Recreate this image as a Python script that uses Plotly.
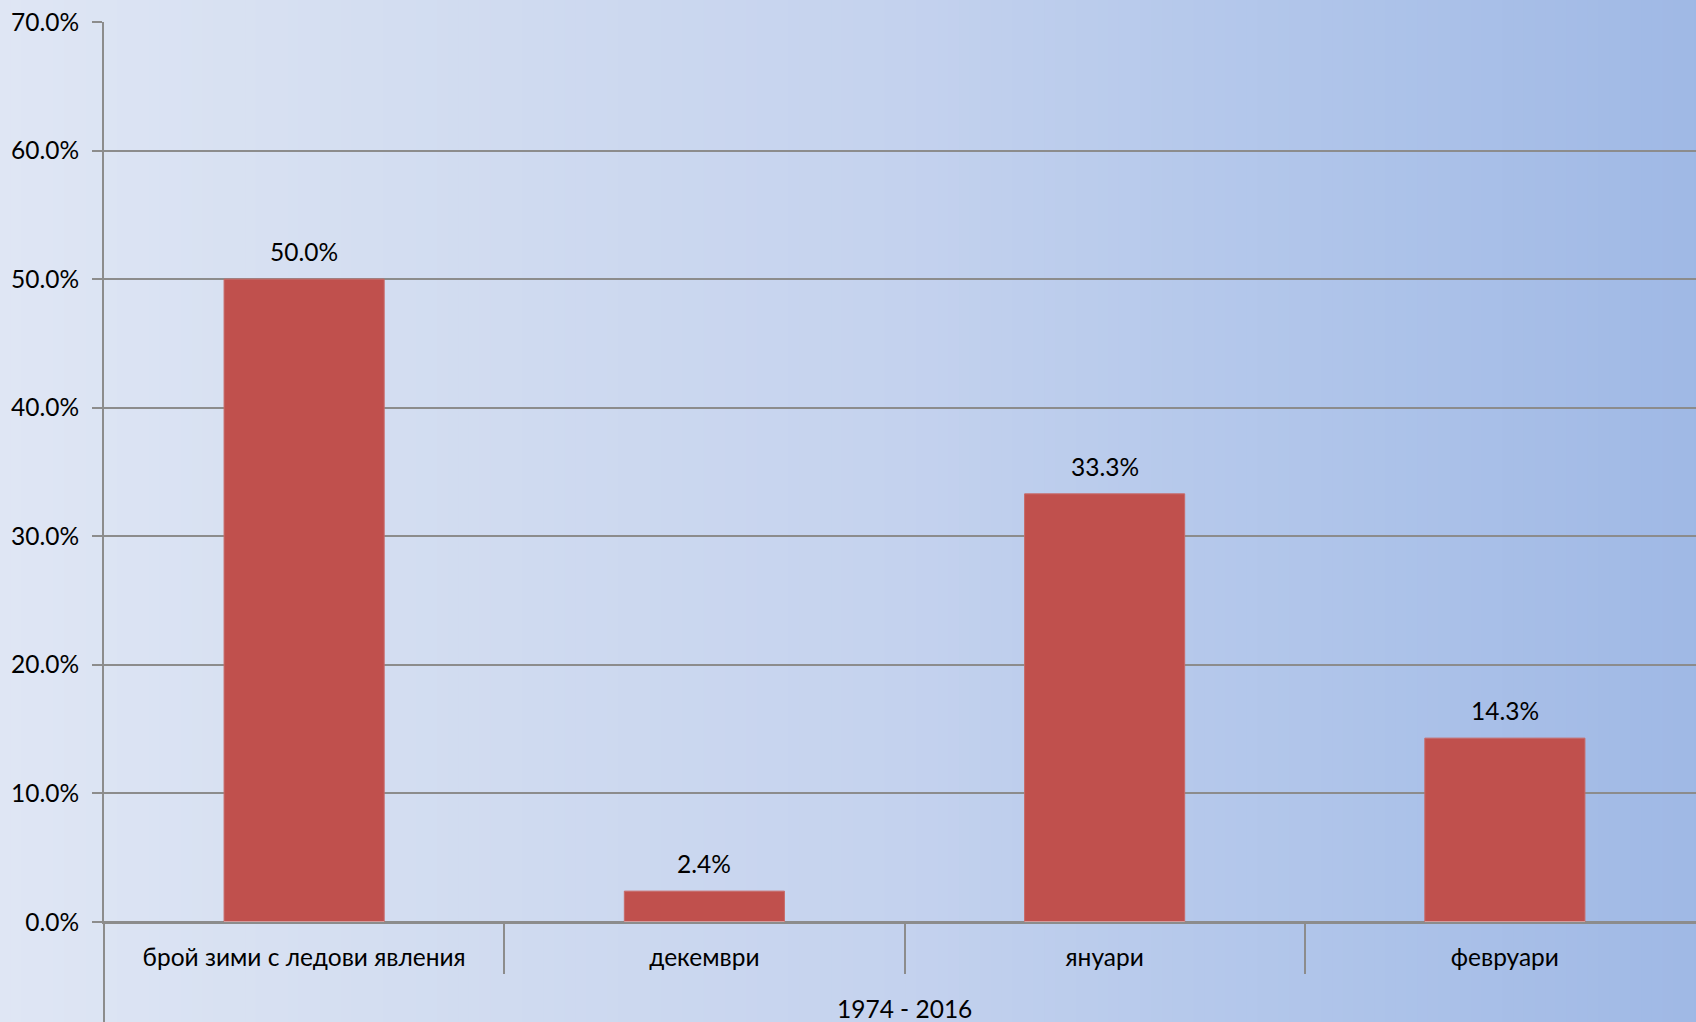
import plotly.graph_objects as go

categories = ["брой зими с ледови явления", "декември", "януари", "февруари"]
values = [0.500, 0.024, 0.333, 0.143]
x_title = "1974 - 2016"
y_ticks = [0, 0.1, 0.2, 0.3, 0.4, 0.5, 0.6, 0.7]

W, H = 1705, 1022
L, R, T, B = 104, 0, 22, 100
FONT = "Lato, 'Noto Sans', sans-serif"
FS = 24.5
GRID = "#8c8c8c"

# background gradient stops (paper fraction, rgb)
stops = [(0.0, (0xdf, 0xe6, 0xf4)), (0.295, (0xd0, 0xdb, 0xf0)), (0.53, (0xc4, 0xd2, 0xee)),
         (0.766, (0xb0, 0xc5, 0xea)), (1.0, (0x9f, 0xb8, 0xe5))]

def col_at(f):
    for (a, ca), (b, cb) in zip(stops[:-1], stops[1:]):
        if a <= f <= b:
            t = (f - a) / (b - a)
            return "rgb(%d,%d,%d)" % tuple(round(ca[i] + (cb[i] - ca[i]) * t) for i in range(3))
    return "rgb(%d,%d,%d)" % stops[-1][1]

shapes = []
N = 160
x_left = -L / (W - L - R)
span = 1 - x_left
for i in range(N):
    f0 = i / N
    f1 = (i + 1) / N
    shapes.append(dict(type="rect", xref="paper", yref="paper",
                       x0=x_left + f0 * span, x1=x_left + f1 * span + 0.002,
                       y0=-B / (H - T - B) - 0.01, y1=1 + T / (H - T - B) + 0.01,
                       fillcolor=col_at((f0 + f1) / 2), line=dict(width=0), layer="below"))
# y-axis line extension to bottom of page
shapes.append(dict(type="line", xref="paper", yref="paper", x0=0, x1=0,
                   y0=-B / (H - T - B) - 0.01, y1=0, line=dict(color=GRID, width=2)))

fig = go.Figure()
fig.add_trace(go.Bar(x=categories, y=values, width=0.4,
                     marker=dict(color="#c0504d", line=dict(color="#c86a68", width=1)),
                     showlegend=False))
fig.add_trace(go.Bar(x=categories, y=[0] * len(categories), xaxis="x2",
                     marker=dict(color="rgba(0,0,0,0)"), showlegend=False, hoverinfo="skip"))

annotations = [dict(text=x_title, xref="paper", yref="paper", x=0.5,
                    y=-86 / (H - T - B),
                    xanchor="center", yanchor="middle", showarrow=False,
                    font=dict(family=FONT, size=FS, color="#000000"))]
for c, v in zip(categories, values):
    annotations.append(dict(x=c, y=v, xref="x", yref="y", text=f"{v * 100:.1f}%",
                            showarrow=False, xanchor="center", yanchor="bottom", yshift=11,
                            font=dict(family=FONT, size=FS, color="#000000")))

fig.update_layout(
    width=W, height=H,
    margin=dict(l=L, r=R, t=T, b=B),
    paper_bgcolor="rgba(0,0,0,0)", plot_bgcolor="rgba(0,0,0,0)",
    font=dict(family=FONT, size=FS, color="#000000"),
    shapes=shapes,
    bargap=0.6,
    xaxis=dict(type="category", categoryarray=categories, range=[-0.5, 3.5],
               showticklabels=False, ticks="outside", tickson="boundaries",
               ticklen=50, tickwidth=2, tickcolor=GRID,
               showline=True, linecolor=GRID, linewidth=2, showgrid=False),
    xaxis2=dict(type="category", categoryarray=categories, range=[-0.5, 3.5],
                overlaying="x", anchor="y", side="bottom", ticks="", showgrid=False,
                showline=False, showticklabels=True, ticklabelstandoff=18,
                tickfont=dict(family=FONT, size=FS, color="#000000")),
    yaxis=dict(range=[0, 0.7], tickvals=y_ticks, tickformat=".1%",
               showgrid=True, gridcolor=GRID, gridwidth=2,
               zeroline=True, zerolinecolor=GRID, zerolinewidth=2,
               showline=True, linecolor=GRID, linewidth=2,
               ticks="outside", ticklen=10, tickwidth=2, tickcolor=GRID,
               ticklabelstandoff=8,
               tickfont=dict(family=FONT, size=FS, color="#000000")),
    annotations=annotations,
)

fig.write_html("out.html", config={"displayModeBar": False},
               post_script="document.body.style.margin='0';document.body.style.overflow='hidden';")
